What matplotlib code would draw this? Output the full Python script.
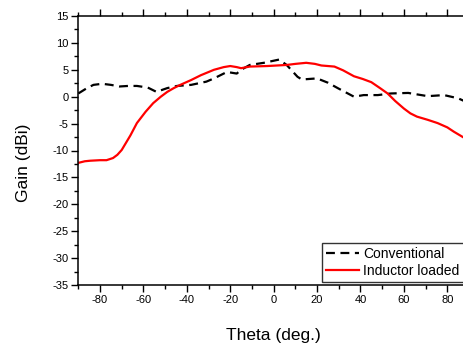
import matplotlib.pyplot as plt
import numpy as np
from matplotlib.ticker import MultipleLocator

plt.rcParams['font.family'] = ['Liberation Sans', 'DejaVu Sans']
plt.rcParams['axes.unicode_minus'] = False

# Conventional antenna gain (dashed black)
theta_conv = [-90, -86, -83, -79, -75, -71, -67, -63, -58, -54, -49, -44.5, -38, -31, -27.5,
              -21.5, -17, -15, -11, -4.5, 2.5, 6, 11, 13, 20, 25, 29.5, 37, 41.5, 48, 54,
              62, 71, 78.5, 85, 90]
gain_conv = [0.6, 1.6, 2.2, 2.4, 2.2, 1.9, 2.0, 2.0, 1.7, 0.9, 1.6, 2.0, 2.2, 2.8, 3.4,
             4.6, 4.3, 5.0, 5.9, 6.3, 6.9, 5.9, 3.7, 3.2, 3.4, 2.6, 1.6, 0.0, 0.3, 0.3, 0.6,
             0.7, 0.1, 0.3, -0.3, -1.2]

# Inductor loaded antenna gain (solid red)
theta_ind = [-90, -87, -84.5, -80, -77, -74, -72, -70, -66, -63, -59, -55.5, -52, -49, -46,
             -43, -38, -33.5, -27.5, -23, -20, -17, -15, -11, -3, 6, 10, 15, 19, 22, 28, 32,
             37, 41, 45, 49, 52.5, 56, 60, 63, 66, 71, 75.5, 80, 83, 88, 90]
gain_ind = [-12.3, -12.0, -11.9, -11.8, -11.8, -11.4, -10.8, -9.9, -7.2, -4.9, -2.8, -1.2,
            0.0, 0.9, 1.6, 2.2, 3.1, 4.0, 5.0, 5.5, 5.7, 5.5, 5.3, 5.6, 5.7, 5.9, 6.1, 6.3,
            6.1, 5.8, 5.6, 4.9, 3.8, 3.3, 2.7, 1.6, 0.6, -0.8, -2.2, -3.1, -3.7, -4.3, -4.9,
            -5.7, -6.5, -7.7, -8.3]

W, H = 464, 347
fig = plt.figure(figsize=(W / 100, H / 100), dpi=100)
# axes runs slightly past the right edge, like the cropped original
ax = fig.add_axes([78.3 / W, 1 - 285 / H, (469 - 78.3) / W, (285 - 16) / H])

ax.plot(theta_conv, gain_conv, color='black', lw=1.6, dashes=(4, 2.5), label='Conventional')
ax.plot(theta_ind, gain_ind, color='red', lw=1.6, label='Inductor loaded')

ax.set_xlim(-90, 90)
ax.set_ylim(-35, 15)
ax.xaxis.set_major_locator(MultipleLocator(20))
ax.xaxis.set_minor_locator(MultipleLocator(10))
ax.set_xticks(np.arange(-80, 81, 20))
ax.yaxis.set_major_locator(MultipleLocator(5))
ax.yaxis.set_minor_locator(MultipleLocator(2.5))

ax.tick_params(which='both', direction='out', top=True, labelsize=8, width=1)
ax.tick_params(which='major', length=5, pad=2)
ax.tick_params(which='minor', length=3)
for s in ax.spines.values():
    s.set_linewidth(1.1)

ax.set_xlabel('Theta (deg.)', fontsize=12.5)
ax.set_ylabel('Gain (dBi)', fontsize=12.5)
ax.xaxis.set_label_coords(0.5, -0.16)
ax.yaxis.set_label_coords(-0.122, 0.453)

leg = fig.legend(loc='lower left', bbox_to_anchor=(321.7 / W, 1 - 282.3 / H),
                 fontsize=10, frameon=True, fancybox=False, edgecolor='black',
                 borderaxespad=0, borderpad=0.3, handlelength=2.4, handletextpad=0.3,
                 labelspacing=0.2)
leg.get_frame().set_linewidth(1)

fig.savefig('out.png', dpi=100)
